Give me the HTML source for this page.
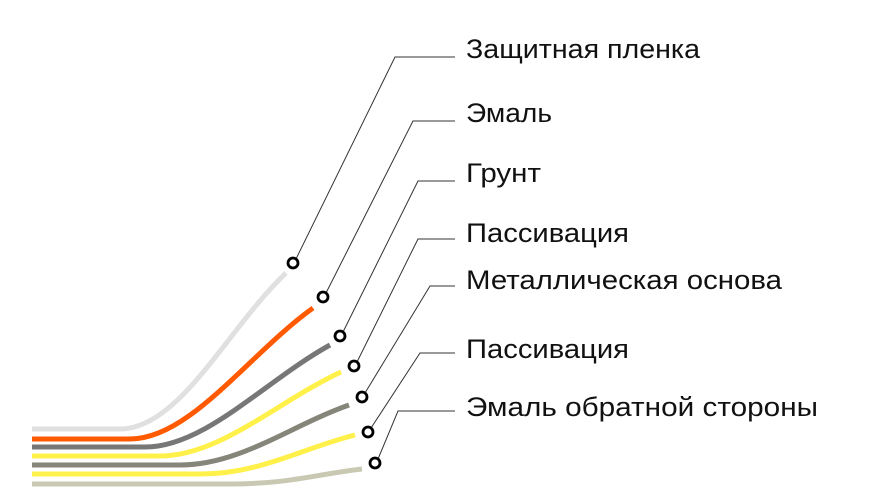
<!DOCTYPE html>
<html><head><meta charset="utf-8"><style>
html,body{margin:0;padding:0;background:#fff;}
svg{display:block;}
text{font-family:"Liberation Sans",sans-serif;font-size:27px;fill:#111;}
</style></head><body>
<svg id="chart" width="886" height="494" viewBox="0 0 886 494" xmlns="http://www.w3.org/2000/svg"></svg>
<script>
const labels = ["Защитная пленка","Эмаль","Грунт","Пассивация","Металлическая основа","Пассивация","Эмаль обратной стороны"];
const colors = ["#e0e0e0","#ff5a00","#777777","#fff04a","#85857a","#fff04a","#c9c9b3"];
const layerY = [429,439,447,456,465,474,484];
const endX = [286,313,330,341,349,355,362];
const endY = [273,308,345,372,405,435,469];
const flatX = [120,130,145,160,180,200,230];
const dotX = [293,323,340,354,362,368,375];
const dotY = [263,297,336,366,397,432,463];
const cornerX = [395,413,418,418,430,420,398];
const cornerY = [57,121,181,239,286,353,411];
const textY = [58,122,182,242,289,358,416];
const textW = [234,86,75,163,316,163,352];
const svg = document.getElementById('chart');
const NS = "http://www.w3.org/2000/svg";
for (let i = 0; i < labels.length; i++) {
  const y = layerY[i], ex = endX[i], ey = endY[i], fx = flatX[i];
  const p = document.createElementNS(NS,'path');
  p.setAttribute('d',`M32,${y} L${fx},${y} C${fx+60},${y} ${ex-(ex-fx)*0.35},${ey+(y-ey)*0.35} ${ex},${ey}`);
  p.setAttribute('fill','none');p.setAttribute('stroke',colors[i]);p.setAttribute('stroke-width','5');
  
  
  svg.appendChild(p);
  const l = document.createElementNS(NS,'polyline');
  l.setAttribute('points',`${dotX[i]+3},${dotY[i]-4} ${cornerX[i]},${cornerY[i]} 455,${cornerY[i]}`);
  l.setAttribute('fill','none');l.setAttribute('stroke','#333');l.setAttribute('stroke-width','1');
  
  
  svg.appendChild(l);
  const c = document.createElementNS(NS,'circle');
  c.setAttribute('cx',dotX[i]);c.setAttribute('cy',dotY[i]);c.setAttribute('r','5');
  c.setAttribute('fill','#fff');c.setAttribute('stroke','#000');c.setAttribute('stroke-width','2.8');
  
  
  svg.appendChild(c);
  const t = document.createElementNS(NS,'text');
  t.setAttribute('x','466');t.setAttribute('y',textY[i]);
  t.setAttribute('textLength',textW[i]);t.setAttribute('lengthAdjust','spacingAndGlyphs');
  t.textContent = labels[i];
  
  
  svg.appendChild(t);
}
</script>
</body></html>
